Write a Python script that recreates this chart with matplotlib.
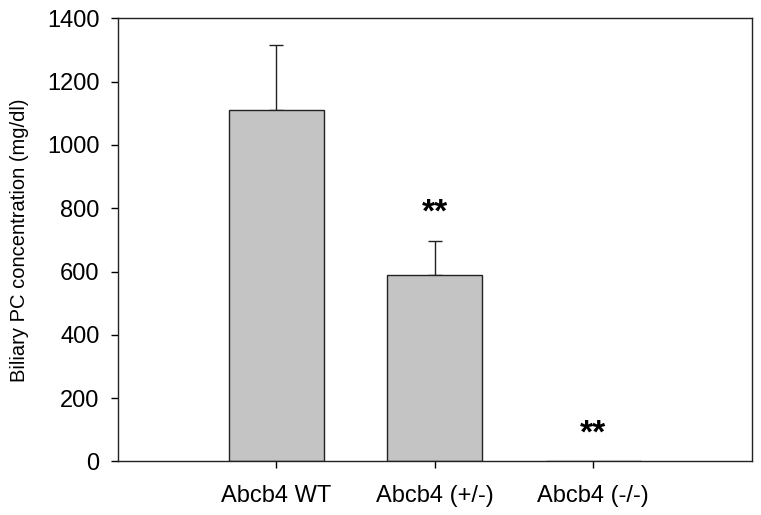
import matplotlib
matplotlib.use("Agg")
import matplotlib.pyplot as plt

plt.rcParams["font.family"] = ["Liberation Sans", "DejaVu Sans"]

groups = ["Abcb4 WT", "Abcb4 (+/-)", "Abcb4 (-/-)"]
means = [1110, 589, 0]
errors = [205, 107, 0]
marks = ["", "**", "**"]
mark_y = [0, 785, 88]

fig = plt.figure(figsize=(7.61, 5.15), dpi=100)
ax = fig.add_axes([0.1547, 0.104, 0.8333, 0.8605])

pos = list(range(len(groups)))
ax.bar(pos, means, width=0.6, color="#c4c4c4", edgecolor="#222222", linewidth=1.0, zorder=2)
for x, m, e in zip(pos, means, errors):
    if e > 0:
        ax.errorbar(x, m, yerr=[[0], [e]], fmt="none", ecolor="#222222",
                    elinewidth=1.0, capsize=5, capthick=1.0, zorder=1)
for x, s, y in zip(pos, marks, mark_y):
    if s:
        ax.text(x, y, s, ha="center", va="center", fontsize=24, fontweight="bold")

ax.set_xlim(-1, 3)
ax.set_ylim(0, 1400)
ax.set_yticks(range(0, 1401, 200))
ax.set_xticks(pos)
ax.set_xticklabels(groups)
ax.tick_params(axis="both", labelsize=17, direction="out", length=5, width=1.0)
ax.tick_params(axis="x", pad=12)
ax.tick_params(axis="y", pad=8)
ax.set_ylabel("Biliary PC concentration (mg/dl)", fontsize=14.5)
ax.yaxis.set_label_coords(-0.14, 0.5)
for sp in ax.spines.values():
    sp.set_linewidth(1.0)
    sp.set_color("#222222")

fig.savefig("out.png", dpi=100)
